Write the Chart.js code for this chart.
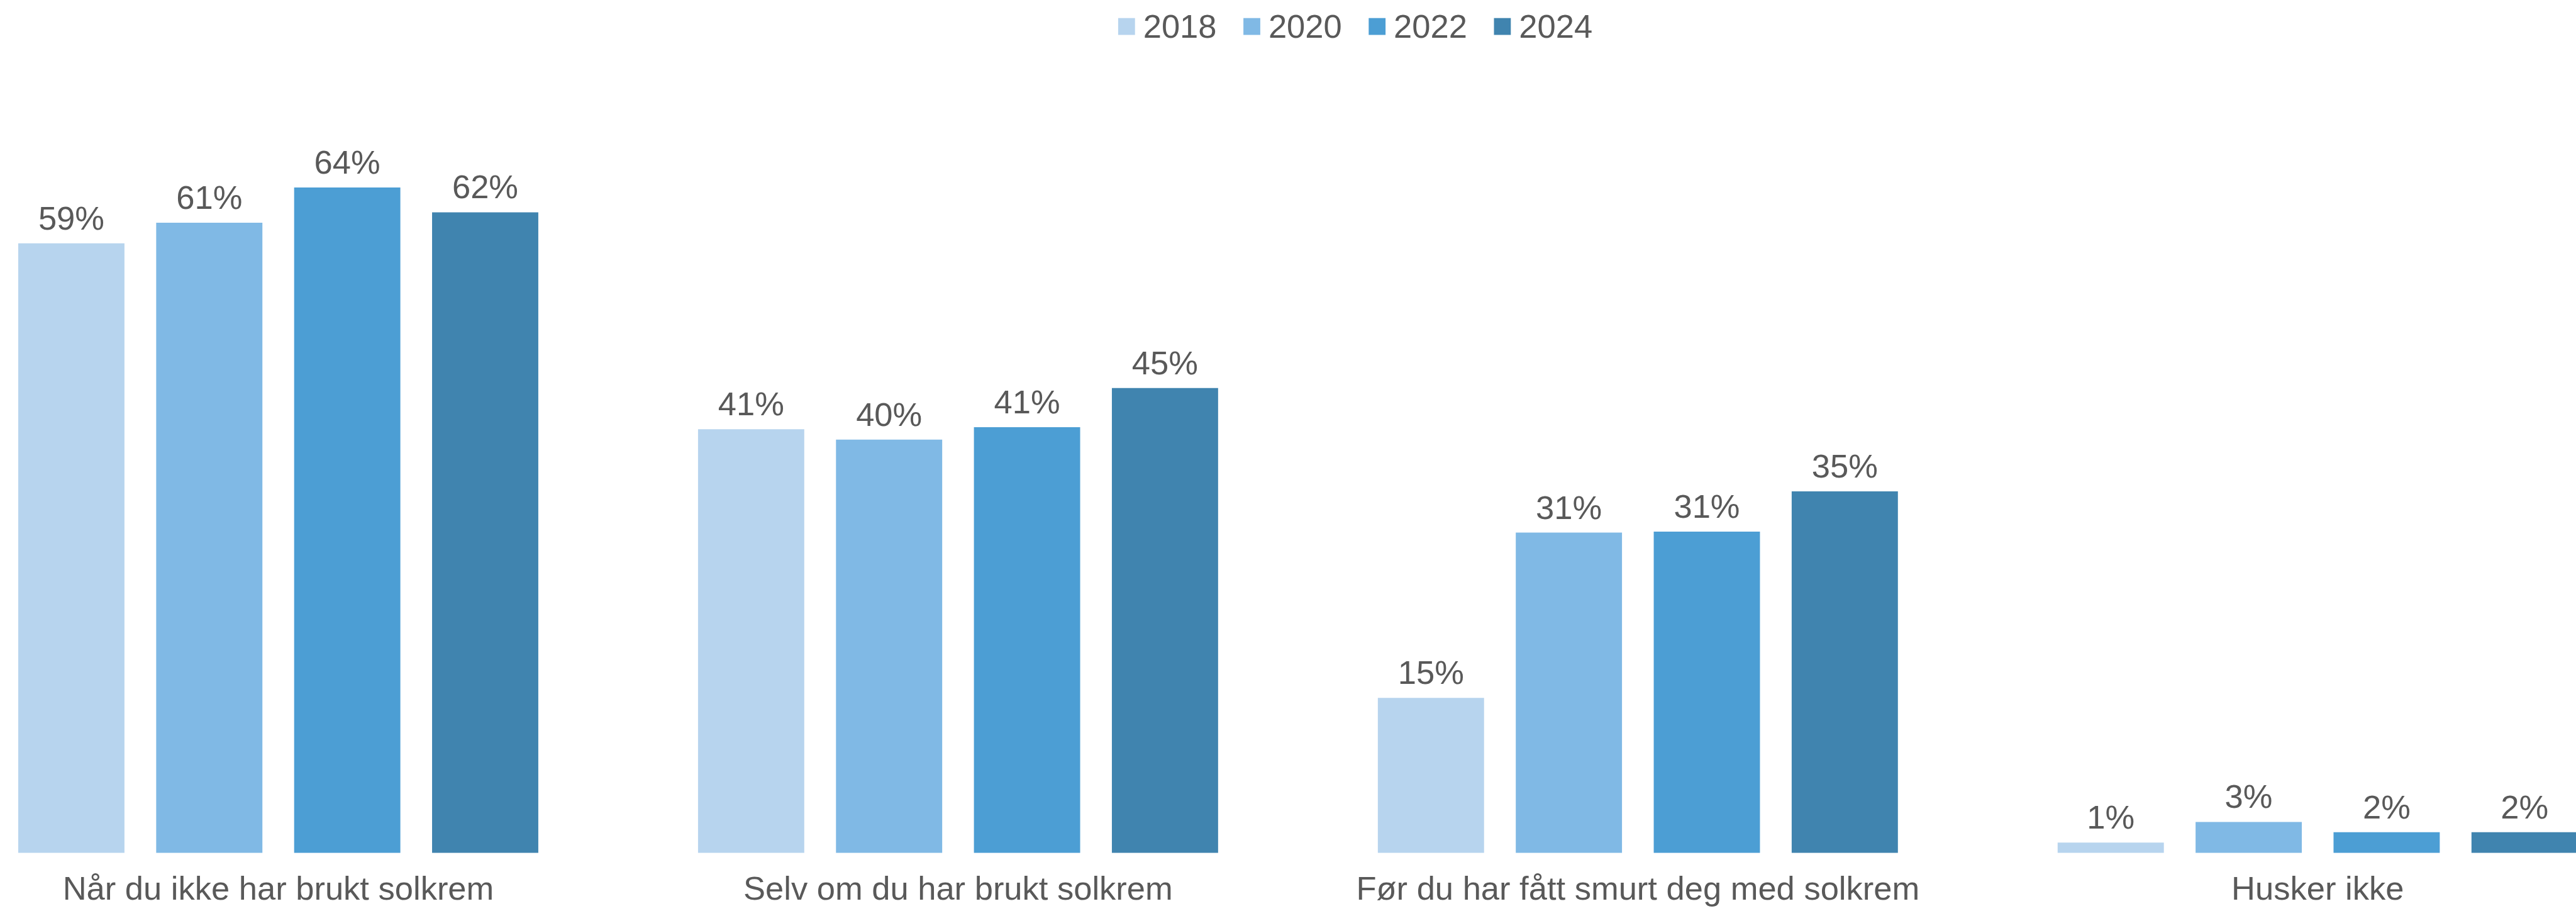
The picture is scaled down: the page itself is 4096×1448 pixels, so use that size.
<!DOCTYPE html>
<html>
<head>
<meta charset="utf-8">
<script src="https://cdn.jsdelivr.net/npm/chart.js@4/dist/chart.umd.min.js"></script>
<style>
  html, body { margin: 0; padding: 0; background: #fff; overflow: hidden; width: 4096px; height: 1448px; }
  #c { position: absolute; left: -98px; top: 0; }
</style>
</head>
<body>
<canvas id="c" width="4506" height="1448"></canvas>
<script>
const categories = ['Når du ikke har brukt solkrem', 'Selv om du har brukt solkrem', 'Før du har fått smurt deg med solkrem', 'Husker ikke'];
const years = ['2018', '2020', '2022', '2024'];
const v2018 = [59, 41, 15, 1];
const v2020 = [61, 40, 31, 3];
const v2022 = [64.4, 41.2, 31.1, 2];
const v2024 = [62, 45, 35, 2];
const colors = ['#B7D4EE', '#80B9E5', '#4C9ED4', '#4084AF'];

const FONT = 'Liberation Sans, Arial, Helvetica, sans-serif';
const TXT = '#595959';
const FS = 52.5;

// value labels above each bar
const barLabels = {
  id: 'barLabels',
  afterDatasetsDraw(chart){
    const ctx = chart.ctx;
    ctx.save();
    ctx.font = FS + 'px ' + FONT;
    ctx.fillStyle = TXT;
    ctx.textAlign = 'center';
    ctx.textBaseline = 'alphabetic';
    chart.data.datasets.forEach((ds, i)=>{
      chart.getDatasetMeta(i).data.forEach((bar, j)=>{
        ctx.fillText(Math.round(ds.data[j]) + '%', bar.x, bar.y - 22);
      });
    });
    ctx.restore();
  }
};

// legend drawn on top, centred on the canvas
const topLegend = {
  id: 'topLegend',
  afterDraw(chart){
    const ctx = chart.ctx;
    ctx.save();
    ctx.font = FS + 'px ' + FONT;
    const box = 26.8, gap = 13, sep = 42.6;
    const items = chart.data.datasets.map(ds=>({ text: ds.label, color: ds.backgroundColor, w: ctx.measureText(ds.label).width }));
    let total = items.reduce((s, it)=>s + box + gap + it.w, 0) + sep * (items.length - 1);
    let x = chart.width / 2 - total / 2;
    items.forEach(it=>{
      ctx.fillStyle = it.color;
      ctx.fillRect(x, 28.7, box, box);
      ctx.fillStyle = TXT;
      ctx.textBaseline = 'alphabetic';
      ctx.textAlign = 'left';
      ctx.fillText(it.text, x + box + gap, 59.5);
      x += box + gap + it.w + sep;
    });
    ctx.restore();
  }
};

const series = [v2018, v2020, v2022, v2024];
new Chart(document.getElementById('c'), {
  type: 'bar',
  data: {
    labels: categories,
    datasets: years.map((y, i)=>({ label: y, data: series[i], backgroundColor: colors[i], borderWidth: 0 }))
  },
  options: {
    responsive: false,
    animation: false,
    categoryPercentage: 0.8117,
    barPercentage: 0.77,
    layout: { padding: { left: 0, right: 182.3, top: 206.1, bottom: 0 } },
    plugins: { legend: { display: false }, tooltip: { enabled: false } },
    scales: {
      x: {
        grid: { display: false, drawTicks: false },
        border: { display: false },
        ticks: { color: TXT, font: { family: FONT, size: FS }, padding: 28, maxRotation: 0, autoSkip: false },
        afterFit: s => { s.height = 92.3; }
      },
      y: { display: false, min: 0, max: 70 }
    }
  },
  plugins: [barLabels, topLegend]
});
</script>
</body>
</html>
